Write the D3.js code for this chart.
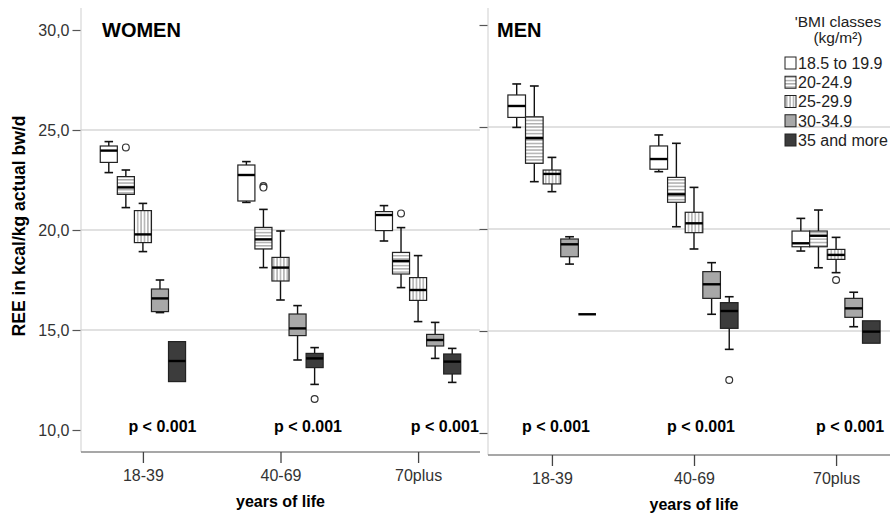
<!DOCTYPE html>
<html>
<head>
<meta charset="utf-8">
<script src="https://cdn.jsdelivr.net/npm/d3@7"></script>
<style>
  body { margin: 0; background: #fff; }
  svg { display: block; font-family: "Liberation Sans", Arial, sans-serif; }
</style>
</head>
<body>
<script>
// categories
var ageGroups = ["18-39", "40-69", "70plus"];
var bmiClasses = ["18.5 to 19.9", "20-24.9", "25-29.9", "30-34.9", "35 and more"];
var yTicks = [10, 15, 20, 25, 30];
var gridValues = [15, 20, 25];
var pLabels = ["p < 0.001", "p < 0.001", "p < 0.001"];

// [low whisker, q1, median, q3, high whisker] per age group, per BMI class
var womenStats = [
  [[22.87, 23.38, 23.97, 24.20, 24.42],
   [21.12, 21.78, 22.13, 22.67, 23.00],
   [18.92, 19.37, 19.78, 20.97, 21.33],
   [15.87, 15.92, 16.58, 17.05, 17.50],
   [12.42, 12.42, 13.45, 14.42, 14.42]],
  [[21.38, 21.45, 22.75, 23.25, 23.42],
   [18.12, 19.05, 19.53, 20.13, 21.03],
   [16.50, 17.45, 18.12, 18.63, 19.95],
   [13.50, 14.72, 15.08, 15.80, 16.22],
   [12.28, 13.12, 13.58, 13.83, 14.12]],
  [[19.45, 19.97, 20.75, 20.92, 21.22],
   [17.12, 17.80, 18.45, 18.88, 20.12],
   [15.42, 16.48, 17.00, 17.62, 18.72],
   [13.58, 14.20, 14.50, 14.78, 15.38],
   [12.38, 12.80, 13.42, 13.80, 14.08]]
];
var menStats = [
  [[24.98, 25.47, 26.03, 26.57, 27.11],
   [22.32, 23.22, 24.45, 25.50, 27.01],
   [21.83, 22.21, 22.70, 22.89, 23.51],
   [18.28, 18.64, 19.25, 19.51, 19.62],
   [15.82, 15.82, 15.82, 15.82, 15.82]],
  [[22.81, 22.93, 23.43, 24.07, 24.61],
   [20.11, 21.31, 21.70, 22.53, 24.20],
   [19.02, 19.82, 20.28, 20.82, 22.04],
   [15.82, 16.60, 17.29, 17.91, 18.35],
   [14.10, 15.13, 15.98, 16.39, 16.68]],
  [[18.92, 19.13, 19.30, 19.90, 20.52],
   [18.10, 19.13, 19.67, 19.90, 20.93],
   [17.86, 18.51, 18.73, 19.00, 19.59],
   [15.21, 15.67, 16.11, 16.60, 16.90],
   [14.40, 14.40, 14.97, 15.50, 15.50]]
];
// outliers: [age group index, class index, value]
var womenOutliers = [[0, 0, 24.13], [1, 0, 22.20], [1, 0, 22.12], [1, 4, 11.55], [2, 0, 20.83]];
var menOutliers = [[1, 4, 12.60], [2, 2, 17.50]];

var width = 890, height = 519;
var svg = d3.select("body").append("svg").attr("width", width).attr("height", height);

var defs = svg.append("defs");
var ph = defs.append("pattern").attr("id", "hlines").attr("patternUnits", "userSpaceOnUse")
  .attr("width", 6).attr("height", 3.3);
ph.append("rect").attr("width", 6).attr("height", 3.3).attr("fill", "#fff");
ph.append("line").attr("x1", 0).attr("x2", 6).attr("y1", 1.6).attr("y2", 1.6)
  .attr("stroke", "#7a7a7a").attr("stroke-width", 0.9);
var pv = defs.append("pattern").attr("id", "vlines").attr("patternUnits", "userSpaceOnUse")
  .attr("width", 3.4).attr("height", 6);
pv.append("rect").attr("width", 3.4).attr("height", 6).attr("fill", "#fff");
pv.append("line").attr("x1", 1.7).attr("x2", 1.7).attr("y1", 0).attr("y2", 6)
  .attr("stroke", "#7a7a7a").attr("stroke-width", 0.9);

var fills = ["#ffffff", "url(#hlines)", "url(#vlines)", "#a8a8a8", "#3c3c3c"];
var fmt = function (d) { return d3.format(".1f")(d).replace(".", ","); };

var panels = [
  {title: "WOMEN", stats: womenStats, outliers: womenOutliers, left: 81, right: 480,
   yTop: 30, yBot: 430, base: 452, titleX: 102, titleY: 37, pShift: [19.5, 27.5, 26.7], labels: true},
  {title: "MEN", stats: menStats, outliers: menOutliers, left: 488, right: 900,
   yTop: 25, yBot: 433, base: 455, titleX: 497, titleY: 37, pShift: [4, 7, 14], labels: false}
];

panels.forEach(function (p) {
  var g = svg.append("g");
  var y = d3.scaleLinear().domain([10, 30]).range([p.yBot, p.yTop]);
  var x = d3.scalePoint().domain(ageGroups).range([p.left, p.right]).padding(0.45);
  var step = x.step();
  var sub = d3.scaleBand().domain(d3.range(bmiClasses.length))
    .range([-0.31 * step, 0.31 * step]).padding(0);
  var bw = sub.bandwidth();

  // gridlines
  g.selectAll(".grid").data(gridValues).enter().append("line")
    .attr("x1", p.left).attr("x2", p.right)
    .attr("y1", function (d) { return y(d); }).attr("y2", function (d) { return y(d); })
    .attr("stroke", "#c4c4c4").attr("stroke-width", 1.2);

  // y axis line
  g.append("line").attr("x1", p.left).attr("x2", p.left).attr("y1", 8).attr("y2", p.base)
    .attr("stroke", "#cfcfcf").attr("stroke-width", 1);

  var yAxis = g.append("g").attr("transform", "translate(" + (p.left - 0.5) + ",0)")
    .call(d3.axisLeft(y).tickValues(yTicks).tickSize(8).tickPadding(3)
      .tickFormat(p.labels ? fmt : ""));
  yAxis.select(".domain").remove();
  yAxis.selectAll("line").attr("stroke", "#555").attr("stroke-width", 1.2);
  yAxis.selectAll("text").attr("font-size", 16).attr("fill", "#333").attr("font-family", null);

  // x axis
  g.append("line").attr("x1", p.left).attr("x2", p.right).attr("y1", p.base).attr("y2", p.base)
    .attr("stroke", "#8a8a8a").attr("stroke-width", 1.5);
  var xAxis = g.append("g").attr("transform", "translate(0," + p.base + ")")
    .call(d3.axisBottom(x).tickSize(11).tickPadding(7));
  xAxis.select(".domain").remove();
  xAxis.selectAll("line").attr("stroke", "#444").attr("stroke-width", 1.3);
  xAxis.selectAll("text").attr("font-size", 16).attr("fill", "#333").attr("font-family", null);

  g.append("text").attr("x", x("40-69")).attr("y", p.base + 55)
    .attr("text-anchor", "middle").attr("font-size", 16).attr("font-weight", "bold")
    .text("years of life");

  g.append("text").attr("x", p.titleX).attr("y", p.titleY)
    .attr("font-size", 20).attr("font-weight", "bold").text(p.title);

  // p-values
  g.selectAll(".pval").data(ageGroups).enter().append("text")
    .attr("x", function (d, i) { return x(d) + p.pShift[i]; })
    .attr("y", 432).attr("text-anchor", "middle")
    .attr("font-size", 16).attr("font-weight", "bold")
    .text(function (d, i) { return pLabels[i]; });

  // boxes
  p.stats.forEach(function (group, gi) {
    group.forEach(function (s, ci) {
      var cx = x(ageGroups[gi]) + sub(ci) + bw / 2;
      var bx = g.append("g");
      var cap = bw * 0.5;
      if (s[4] > s[3]) {
        bx.append("line").attr("x1", cx).attr("x2", cx).attr("y1", y(s[4])).attr("y2", y(s[3]))
          .attr("stroke", "#111").attr("stroke-width", 1.4);
        bx.append("line").attr("x1", cx - cap / 2).attr("x2", cx + cap / 2)
          .attr("y1", y(s[4])).attr("y2", y(s[4])).attr("stroke", "#111").attr("stroke-width", 1.6);
      }
      if (s[0] < s[1]) {
        bx.append("line").attr("x1", cx).attr("x2", cx).attr("y1", y(s[1])).attr("y2", y(s[0]))
          .attr("stroke", "#111").attr("stroke-width", 1.4);
        bx.append("line").attr("x1", cx - cap / 2).attr("x2", cx + cap / 2)
          .attr("y1", y(s[0])).attr("y2", y(s[0])).attr("stroke", "#111").attr("stroke-width", 1.6);
      }
      bx.append("rect").attr("x", cx - bw / 2).attr("width", bw)
        .attr("y", y(s[3])).attr("height", y(s[1]) - y(s[3]))
        .attr("fill", fills[ci]).attr("stroke", "#222").attr("stroke-width", 1.2);
      bx.append("line").attr("x1", cx - bw / 2).attr("x2", cx + bw / 2)
        .attr("y1", y(s[2])).attr("y2", y(s[2])).attr("stroke", "#000").attr("stroke-width", 2.4);
    });
  });

  // outliers (those of the first class sit one box to the right, as in the original)
  g.selectAll(".out").data(p.outliers).enter().append("circle")
    .attr("cx", function (d) { return x(ageGroups[d[0]]) + sub(d[1]) + bw / 2 + (d[1] === 0 ? bw : 0); })
    .attr("cy", function (d) { return y(d[2]); })
    .attr("r", 3.4).attr("fill", "#fff").attr("stroke", "#333").attr("stroke-width", 1.2);
});

// y axis title
svg.append("text").attr("transform", "translate(25,226) rotate(-90)")
  .attr("text-anchor", "middle").attr("font-size", 17.5).attr("font-weight", "bold")
  .text("REE in kcal/kg actual bw/d");

// legend
var legend = svg.append("g");
legend.append("text").attr("x", 838).attr("y", 27).attr("text-anchor", "middle")
  .attr("font-size", 15.5).attr("fill", "#222").text("'BMI classes");
legend.append("text").attr("x", 838).attr("y", 43).attr("text-anchor", "middle")
  .attr("font-size", 15.5).attr("fill", "#222").text("(kg/m²)");
var items = legend.selectAll(".item").data(bmiClasses).enter().append("g")
  .attr("transform", function (d, i) { return "translate(785," + (63 + i * 19.25) + ")"; });
items.append("rect").attr("x", 0).attr("y", -6).attr("width", 11).attr("height", 12)
  .attr("fill", function (d, i) { return fills[i]; }).attr("stroke", "#222").attr("stroke-width", 1);
items.append("text").attr("x", 13).attr("y", 5.8).attr("font-size", 16).attr("fill", "#222")
  .text(function (d) { return d; });
</script>
</body>
</html>
